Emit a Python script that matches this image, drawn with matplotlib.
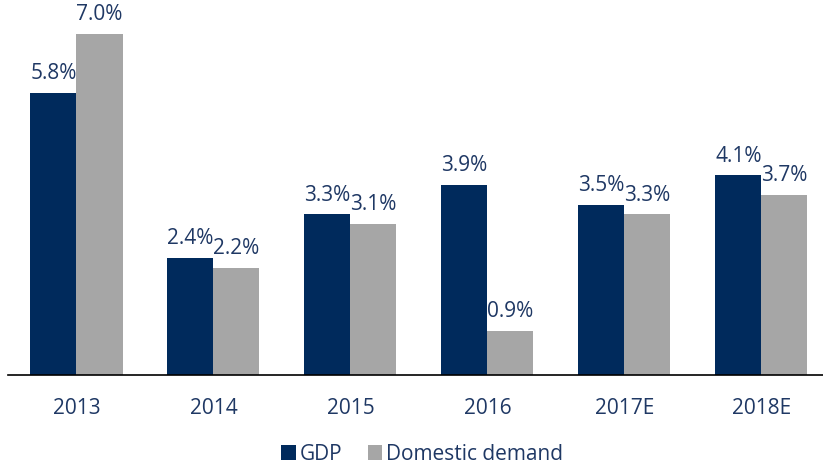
import matplotlib
matplotlib.use("Agg")
import matplotlib.pyplot as plt
import numpy as np

categories = ["2013", "2014", "2015", "2016", "2017E", "2018E"]
gdp = [5.8, 2.4, 3.3, 3.9, 3.5, 4.1]
domestic = [7.0, 2.2, 3.1, 0.9, 3.3, 3.7]

navy = "#002a5c"
gray = "#a6a6a6"
txt = "#1f3864"

plt.rcParams['font.family'] = ['Open Sans', 'DejaVu Sans']

fig = plt.figure(figsize=(8.23, 4.64), dpi=100)
ax = fig.add_axes([8/823, 88/464, 1 - 8/823, 1 - 88/464])

x = np.arange(len(categories))
w = 0.336
b1 = ax.bar(x - w/2, gdp, w, color=navy, label="GDP")
b2 = ax.bar(x + w/2, domestic, w, color=gray, label="Domestic demand")

for bars, vals in ((b1, gdp), (b2, domestic)):
    for r, v in zip(bars, vals):
        ax.annotate(f"{v:.1f}%", (r.get_x() + r.get_width()/2, v),
                    xytext=(0, 7), textcoords="offset points",
                    ha="center", va="bottom", fontsize=15, color=txt)

ax.set_xlim(-0.5, 5.45)
ax.set_ylim(0, 7.72)
ax.set_xticks(x)
ax.set_xticklabels(categories, fontsize=15, color=txt)
ax.tick_params(axis="x", length=0, pad=16)
ax.set_yticks([])
for s in ("top", "right", "left"):
    ax.spines[s].set_visible(False)
ax.spines["bottom"].set_color("#000000")
ax.spines["bottom"].set_linewidth(1.2)

leg = fig.legend(handles=[b1, b2], loc="center", bbox_to_anchor=(0.513, 9/464),
                 ncol=2, frameon=False, fontsize=15, handlelength=0.7, handleheight=0.7,
                 handletextpad=0.2, columnspacing=1.2)
for t in leg.get_texts():
    t.set_color(txt)

fig.savefig("out.png", dpi=100)
